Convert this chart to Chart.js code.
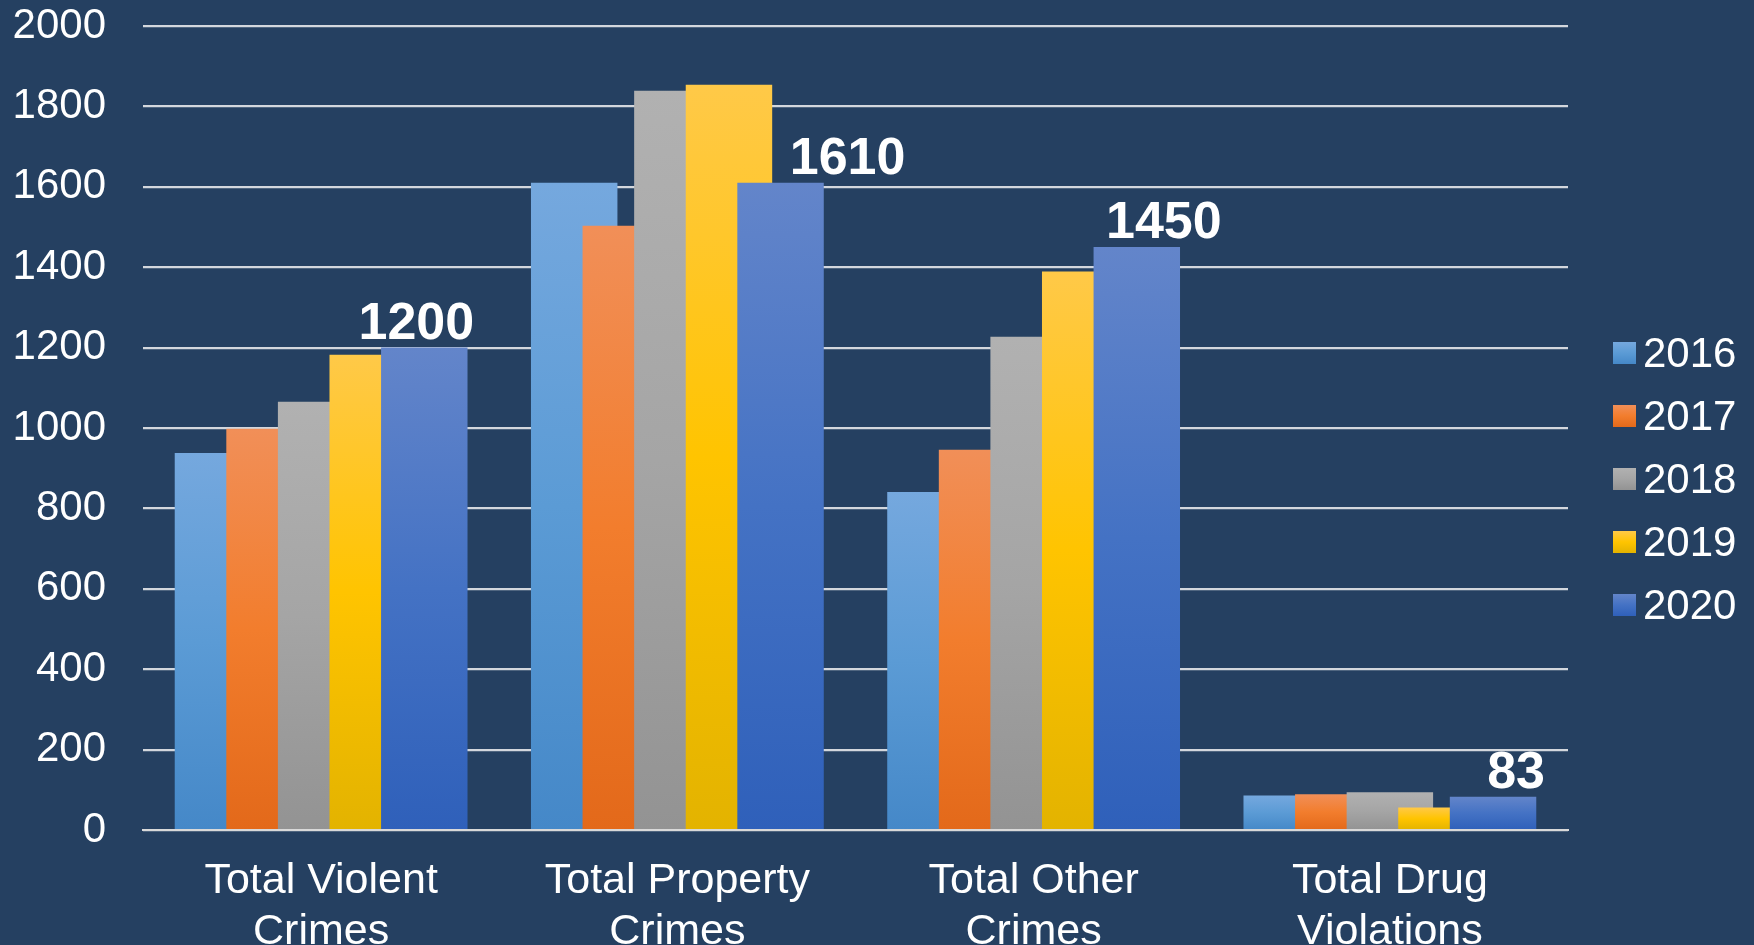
<!DOCTYPE html>
<html>
<head>
<meta charset="utf-8">
<title>Crime totals 2016-2020</title>
<script src="https://cdn.jsdelivr.net/npm/chart.js@4.4.0/dist/chart.umd.min.js"></script>
<style>
  html, body { margin: 0; padding: 0; background: #254061; overflow: hidden; }
  canvas { display: block; }
</style>
</head>
<body>
<canvas id="crimeChart" width="1754" height="945"></canvas>
<script>
var categories = [
  ["Total Violent", "Crimes"],
  ["Total Property", "Crimes"],
  ["Total Other", "Crimes"],
  ["Total Drug", "Violations"]
];
var years = ["2016", "2017", "2018", "2019", "2020"];
var y2016 = [938, 1610, 841, 86];
var y2017 = [998, 1503, 946, 89];
var y2018 = [1065, 1839, 1227, 94];
var y2019 = [1182, 1854, 1389, 56];
var y2020 = [1200, 1610, 1450, 83];
var yTicks = [0, 200, 400, 600, 800, 1000, 1200, 1400, 1600, 1800, 2000];

// light top -> base colour -> darker bottom, like the office gradient fill
var fills = [
  ["#75A8DE", "#5B9BD5", "#4588C8"],
  ["#F18F58", "#F27D2D", "#E3691A"],
  ["#B1B1B1", "#A5A5A5", "#939393"],
  ["#FFC948", "#FFC400", "#E3B300"],
  ["#6385CA", "#4472C4", "#2F60BA"]
];
var labelDx = [-8, 67, 27, 23];
var FONT = "'Liberation Sans', Arial, sans-serif";

function barFill(stops) {
  return function (ctx) {
    var chart = ctx.chart;
    if (!chart.chartArea || ctx.type !== "data") return stops[1];
    var y = chart.scales.y;
    var top = y.getPixelForValue(ctx.raw);
    var base = y.getPixelForValue(0);
    if (!isFinite(top) || top === base) return stops[1];
    var g = chart.ctx.createLinearGradient(0, top, 0, base);
    g.addColorStop(0, stops[0]);
    g.addColorStop(0.5, stops[1]);
    g.addColorStop(1, stops[2]);
    return g;
  };
}

// later years drawn over earlier ones (bars overlap)
var drawInOrder = {
  id: "drawInOrder",
  beforeDatasetsDraw: function (chart) {
    var ctx = chart.ctx, a = chart.chartArea;
    ctx.save();
    ctx.beginPath();
    ctx.rect(a.left, a.top - 2, a.right - a.left, a.bottom - a.top + 2);
    ctx.clip();
    chart.getSortedVisibleDatasetMetas().forEach(function (meta) {
      meta.controller.draw();
    });
    ctx.restore();
    return false;
  }
};

var valueLabels = {
  id: "valueLabels",
  afterDraw: function (chart) {
    var ctx = chart.ctx;
    var meta = chart.getDatasetMeta(4);
    ctx.save();
    ctx.fillStyle = "#FFFFFF";
    ctx.font = "bold 52px " + FONT;
    ctx.textAlign = "center";
    ctx.textBaseline = "alphabetic";
    meta.data.forEach(function (bar, i) {
      ctx.fillText(String(y2020[i]), bar.x + labelDx[i], bar.y - 9);
    });
    ctx.restore();
  }
};

var sideLegend = {
  id: "sideLegend",
  afterDraw: function (chart) {
    var ctx = chart.ctx;
    ctx.save();
    ctx.font = "42px " + FONT;
    ctx.textAlign = "left";
    ctx.textBaseline = "middle";
    chart.data.datasets.forEach(function (ds, i) {
      var cy = 353 + i * 63;
      var g = ctx.createLinearGradient(0, cy - 11, 0, cy + 11);
      g.addColorStop(0, fills[i][0]);
      g.addColorStop(0.5, fills[i][1]);
      g.addColorStop(1, fills[i][2]);
      ctx.fillStyle = g;
      ctx.fillRect(1613, cy - 11, 23, 22);
      ctx.fillStyle = "#FFFFFF";
      ctx.fillText(ds.label, 1643, cy + 2);
    });
    ctx.restore();
  }
};

var series = [y2016, y2017, y2018, y2019, y2020];
var datasets = years.map(function (yr, i) {
  return {
    label: yr,
    data: series[i],
    backgroundColor: barFill(fills[i]),
    borderWidth: 0,
    categoryPercentage: 0.724,
    barPercentage: 1.676
  };
});

new Chart(document.getElementById("crimeChart"), {
  type: "bar",
  data: { labels: categories, datasets: datasets },
  plugins: [drawInOrder, valueLabels, sideLegend],
  options: {
    responsive: false,
    animation: false,
    devicePixelRatio: 1,
    layout: { padding: { top: 26, right: 186, left: 0, bottom: 0 } },
    plugins: {
      legend: { display: false },
      tooltip: { enabled: false }
    },
    scales: {
      x: {
        z: 1,
        grid: { display: false, drawTicks: false },
        border: { display: true, color: "#D9D9D9", width: 2 },
        ticks: {
          color: "#FFFFFF",
          font: { family: FONT, size: 43 },
          padding: 25,
          maxRotation: 0,
          autoSkip: false
        },
        afterFit: function (s) { s.height = 115; }
      },
      y: {
        min: 0,
        max: 2000,
        afterBuildTicks: function (s) {
          s.ticks = yTicks.map(function (v) { return { value: v }; });
        },
        grid: {
          color: "#D3D7DD",
          lineWidth: 2.2,
          drawTicks: true,
          tickLength: 37,
          tickColor: "rgba(0,0,0,0)"
        },
        border: { display: false },
        ticks: {
          color: "#FFFFFF",
          font: { family: FONT, size: 42 },
          padding: 0,
          callback: function (v) { return String(v); }
        },
        afterFit: function (s) { s.width = 143; }
      }
    }
  }
});
</script>
</body>
</html>
